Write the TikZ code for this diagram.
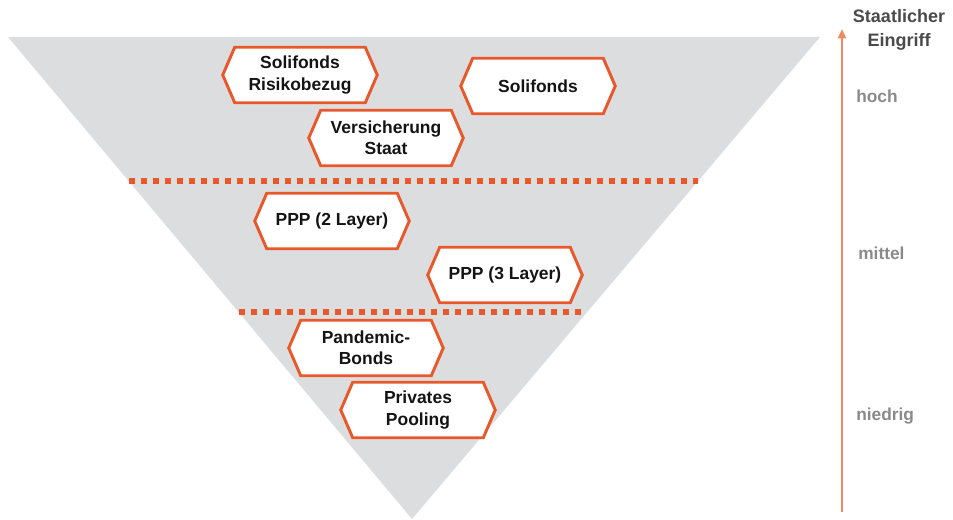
\documentclass[tikz,border=0pt]{standalone}
\usepackage{fontspec}
\setmainfont{Liberation Sans}
\usetikzlibrary{arrows.meta,calc}
\definecolor{tri}{HTML}{DCDDDE}
\definecolor{org}{HTML}{E8582A}
\definecolor{arr}{HTML}{F08A62}
\definecolor{lbl}{HTML}{8A8A8A}
\definecolor{ttl}{HTML}{4A4A4A}
\tikzset{
  hextext/.style={shape=rectangle,inner sep=0pt,minimum width=115.5pt,minimum height=41.25pt,align=center,font=\fontsize{13.1}{16}\selectfont\bfseries,text=black!92},
  hexline/.style={draw=org,line width=2.2pt,fill=white,line join=miter},
  dots/.style={draw=org,line width=3.8pt,dash pattern=on 4.5pt off 4.5pt},
  level/.style={anchor=west,inner sep=0pt,font=\fontsize{13}{15}\selectfont\bfseries,text=lbl},
}
\newcommand\hexbox[3]{%
  \path node[hextext] (#1) at (#2) {};
  \filldraw[hexline] (#1.west) -- ([xshift=9pt]#1.north west) -- ([xshift=-9pt]#1.north east) -- (#1.east) -- ([xshift=-9pt]#1.south east) -- ([xshift=9pt]#1.south west) -- cycle;
  \node[hextext] at (#1.center) {#3};
}
\begin{document}
\begin{tikzpicture}[x=0.75pt,y=-0.75pt]
\useasboundingbox (0,0) rectangle (953,520);
\fill[tri] (8,37) -- (820,37) -- (412,519) -- cycle;
\coordinate (d1a) at (129,181); \coordinate (d1b) at (698,181);
\coordinate (d2a) at (239,312); \coordinate (d2b) at (587,312);
\draw[dots] (d1a) -- (d1b);
\draw[dots] (d2a) -- (d2b);
\hexbox{h1}{300,75}{Solifonds\\Risikobezug}
\hexbox{h2}{538,86}{Solifonds}
\hexbox{h3}{386,138}{Versicherung\\Staat}
\hexbox{h4}{332,221}{PPP (2 Layer)}
\hexbox{h5}{505,275}{PPP (3 Layer)}
\hexbox{h6}{366,348}{Pandemic-\\Bonds}
\hexbox{h7}{418,410}{Privates\\Pooling}
\coordinate (a0) at (842,512);
\coordinate (a1) at (842,29);
\draw[arr,line width=1.6pt,-{Triangle[length=7pt,width=6pt]}] (a0) -- (a1);
\node[align=center,font=\fontsize{13.5}{17.5}\selectfont\bfseries,text=ttl] (title) at (899,30) {Staatlicher\\Eingriff};
\node[level] (hoch) at (856,96) {hoch};
\node[level] (mittel) at (858,253) {mittel};
\node[level] (niedrig) at (856,416) {niedrig};
\end{tikzpicture}
\end{document}
